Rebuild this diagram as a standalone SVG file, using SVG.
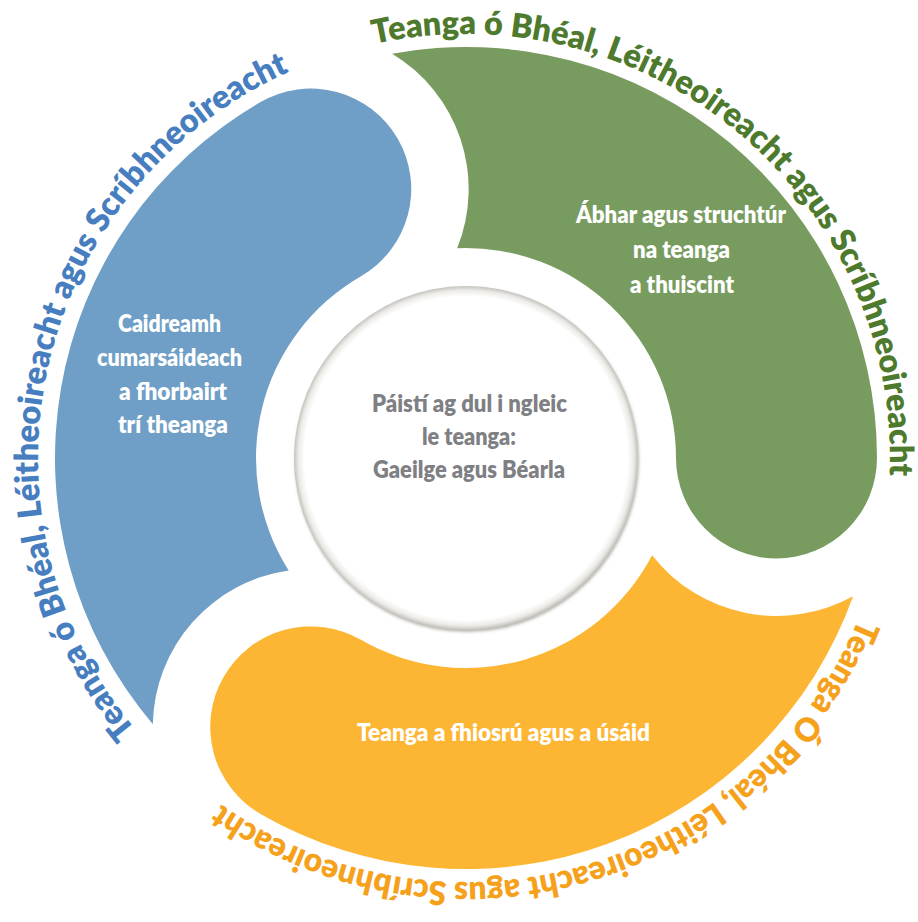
<svg xmlns="http://www.w3.org/2000/svg" xmlns:xlink="http://www.w3.org/1999/xlink" width="918" height="922" viewBox="0 0 918 922">
  <defs>
    <style>
      .title { font-family: Lato, "Open Sans", "Liberation Sans", sans-serif; font-weight: 800; font-size: 33px; }
      .inner { font-family: Lato, "Open Sans", "Liberation Sans", sans-serif; font-weight: 800; font-size: 24px; fill: #ffffff; }
      .centre { font-family: Lato, "Open Sans", "Liberation Sans", sans-serif; font-weight: 800; font-size: 24px; fill: #7f8084; }
    </style>
    <path id="swoosh" d="M 392.1 53.7 A 411 411 0 0 1 877 458 A 100.5 100.5 0 0 1 676 458 A 210 210 0 0 0 457.2 248.2 A 158 158 0 0 0 392.1 53.7 Z"/>
    <path id="arcGreen" d="M 374.2 44.1 A 424 424 0 0 1 879.9 549.8" fill="none"/>
    <path id="arcBlue" d="M 136 730 A 424 424 0 0 1 359.8 47.5" fill="none"/>
    <path id="arcOrange" d="M 858.3 618.9 A 424 424 0 0 1 154.4 745.6" fill="none"/>
    <radialGradient id="ring" cx="50%" cy="50%" r="50%">
      <stop offset="0.94" stop-color="#ffffff"/>
      <stop offset="0.975" stop-color="#ecebe7"/>
      <stop offset="1" stop-color="#c4c2bc"/>
    </radialGradient>
    <filter id="soft" x="-10%" y="-10%" width="120%" height="120%">
      <feGaussianBlur stdDeviation="1.5"/>
    </filter>
  </defs>
  <rect x="0" y="0" width="918" height="922" fill="#ffffff"/>

  <g id="blue">
    <use xlink:href="#swoosh" href="#swoosh" fill="#6f9fc6" transform="rotate(240 466 458)"/>
    <text class="inner" x="118" y="332" textLength="103" lengthAdjust="spacingAndGlyphs">Caidreamh</text>
    <text class="inner" x="97" y="366" textLength="145" lengthAdjust="spacingAndGlyphs">cumarsáideach</text>
    <text class="inner" x="119" y="400" textLength="108" lengthAdjust="spacingAndGlyphs">a fhorbairt</text>
    <text class="inner" x="118" y="433" textLength="110" lengthAdjust="spacingAndGlyphs">trí theanga</text>
    <text class="title" fill="#477ec0"><textPath xlink:href="#arcBlue" href="#arcBlue" textLength="782" lengthAdjust="spacingAndGlyphs">Teanga ó Bhéal, Léitheoireacht agus Scríbhneoireacht</textPath></text>
  </g>

  <g id="green">
    <use xlink:href="#swoosh" href="#swoosh" fill="#789c5f"/>
    <text class="inner" x="576" y="223" textLength="210" lengthAdjust="spacingAndGlyphs">Ábhar agus struchtúr</text>
    <text class="inner" x="633" y="258" textLength="97" lengthAdjust="spacingAndGlyphs">na teanga</text>
    <text class="inner" x="630" y="293" textLength="104" lengthAdjust="spacingAndGlyphs">a thuiscint</text>
    <text class="title" fill="#4e7a2d"><textPath xlink:href="#arcGreen" href="#arcGreen" textLength="776" lengthAdjust="spacingAndGlyphs">Teanga ó Bhéal, Léitheoireacht agus Scríbhneoireacht</textPath></text>
  </g>

  <g id="orange">
    <use xlink:href="#swoosh" href="#swoosh" fill="#fdb633" transform="rotate(120 466 458)"/>
    <text class="inner" x="357" y="741" textLength="293" lengthAdjust="spacingAndGlyphs">Teanga a fhiosrú agus a úsáid</text>
    <text class="title" fill="#f6a11c"><textPath xlink:href="#arcOrange" href="#arcOrange" textLength="762" lengthAdjust="spacingAndGlyphs">Teanga Ó Bhéal, Léitheoireacht agus Scríbhneoireacht</textPath></text>
  </g>

  <g id="centre">
    <circle cx="467" cy="460" r="172" fill="#b9b7b1" filter="url(#soft)"/>
    <circle cx="466" cy="458" r="172" fill="url(#ring)"/>
    <text class="centre" x="372" y="412" textLength="195" lengthAdjust="spacingAndGlyphs">Páistí ag dul i ngleic</text>
    <text class="centre" x="422" y="445" textLength="94" lengthAdjust="spacingAndGlyphs">le teanga:</text>
    <text class="centre" x="373" y="478" textLength="192" lengthAdjust="spacingAndGlyphs">Gaeilge agus Béarla</text>
  </g>

  <g id="connectors"/>
</svg>
